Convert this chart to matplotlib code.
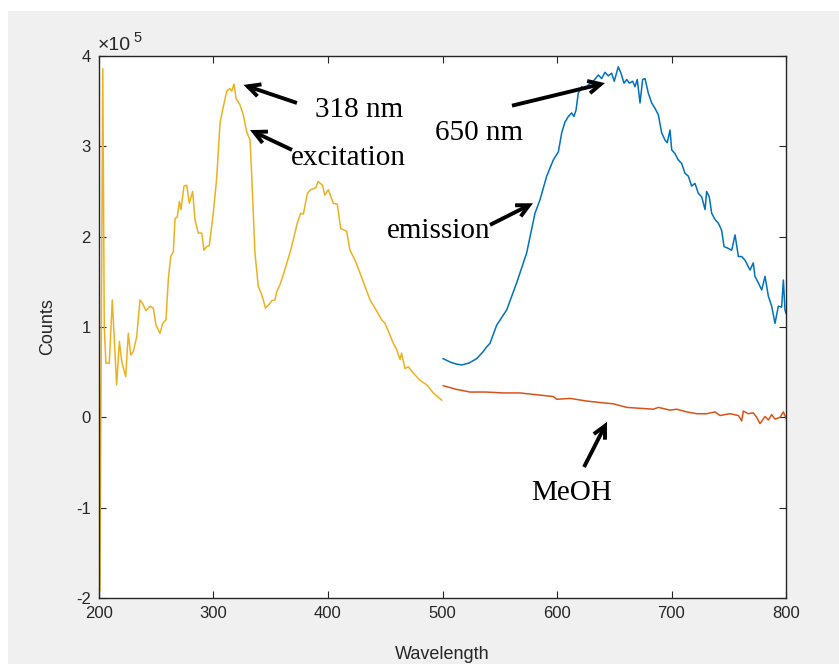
import matplotlib
matplotlib.use("Agg")
import matplotlib.pyplot as plt
from matplotlib.patches import Rectangle
from matplotlib import font_manager as fm
import numpy as np

# ---------------- data (counts in units of 1e5) ----------------
exc_wl = [200.0, 200.8, 203.3, 204.6, 206.0, 209.0, 211.6, 215.4, 217.8, 219.8,
          223.3, 225.6, 227.7, 230.0, 232.9, 235.8, 238.1, 241.0, 244.5, 247.4,
          249.8, 253.3, 255.6, 258.5, 260.5, 262.6, 264.9, 266.4, 268.4, 270.2,
          271.6, 274.2, 276.6, 278.9, 281.8, 283.8, 286.7, 289.7, 291.7, 294.1,
          296.3, 299.8, 302.8, 305.7, 308.6, 311.5, 314.4, 315.9, 317.9, 319.7,
          323.1, 326.0, 329.0, 331.9, 333.4, 336.2, 339.1, 342.1, 345.4, 347.9,
          350.8, 353.7, 355.2, 358.1, 361.5, 367.4, 373.2, 376.1, 378.5, 382.0,
          384.9, 389.3, 391.3, 395.2, 397.2, 400.3, 404.6, 408.1, 411.1, 416.3,
          419.2, 423.6, 427.9, 432.3, 436.7, 441.9, 446.9, 449.8, 453.5, 457.0,
          460.0, 462.9, 464.3, 467.2, 470.1, 474.5, 480.3, 486.2, 492.0, 499.3]
exc_val = [1.70, -1.92, 3.86, 1.00, 0.60, 0.60, 1.30, 0.36, 0.84, 0.62,
           0.45, 0.93, 0.69, 0.73, 0.89, 1.30, 1.26, 1.18, 1.23, 1.21,
           1.02, 0.93, 1.04, 1.08, 1.52, 1.78, 1.83, 2.20, 2.22, 2.39,
           2.30, 2.56, 2.57, 2.37, 2.50, 2.19, 2.04, 2.04, 1.85, 1.89,
           1.90, 2.26, 2.65, 3.26, 3.44, 3.61, 3.64, 3.61, 3.69, 3.53,
           3.46, 3.35, 3.16, 3.07, 2.67, 1.82, 1.45, 1.36, 1.21, 1.24,
           1.29, 1.30, 1.39, 1.47, 1.60, 1.85, 2.15, 2.26, 2.25, 2.48,
           2.52, 2.54, 2.61, 2.57, 2.46, 2.52, 2.37, 2.36, 2.09, 2.06,
           1.85, 1.74, 1.60, 1.45, 1.30, 1.19, 1.08, 1.04, 0.93, 0.82,
           0.75, 0.64, 0.71, 0.54, 0.56, 0.49, 0.41, 0.36, 0.27, 0.19]

em_wl = [500.5, 507.0, 512.0, 516.8, 523.0, 529.9, 535.0, 538.6, 541.5, 547.3,
         556.1, 564.8, 573.5, 580.8, 585.2, 591.0, 596.8, 601.2, 604.1, 607.0,
         609.9, 612.8, 614.8, 616.6, 618.6, 621.6, 624.5, 627.3, 631.7, 636.1,
         639.0, 641.9, 644.8, 647.7, 650.0, 653.5, 655.9, 658.5, 660.9, 663.1,
         666.1, 668.1, 670.1, 672.5, 674.8, 676.9, 679.7, 682.7, 685.6, 688.5,
         691.4, 694.3, 696.3, 698.7, 700.2, 703.0, 705.9, 708.9, 711.8, 714.7,
         717.6, 720.5, 723.4, 726.4, 729.3, 730.7, 733.0, 735.1, 738.0, 740.9,
         743.8, 745.9, 749.6, 752.6, 755.5, 758.4, 761.3, 764.2, 768.6, 771.4,
         772.9, 775.8, 778.8, 781.7, 784.6, 787.5, 790.4, 793.3, 796.2, 797.7,
         799.1, 800.0]
em_val = [0.65, 0.61, 0.59, 0.58, 0.60, 0.65, 0.72, 0.78, 0.82, 1.02,
          1.19, 1.49, 1.82, 2.26, 2.41, 2.67, 2.85, 2.94, 3.15, 3.27,
          3.33, 3.37, 3.33, 3.40, 3.59, 3.66, 3.63, 3.68, 3.72, 3.79,
          3.75, 3.82, 3.78, 3.81, 3.72, 3.88, 3.81, 3.70, 3.74, 3.70,
          3.72, 3.66, 3.74, 3.48, 3.74, 3.75, 3.59, 3.48, 3.42, 3.35,
          3.15, 3.07, 3.04, 3.18, 2.96, 2.92, 2.85, 2.81, 2.70, 2.67,
          2.56, 2.59, 2.48, 2.44, 2.30, 2.50, 2.44, 2.26, 2.19, 2.15,
          2.07, 1.89, 1.87, 1.85, 2.02, 1.78, 1.78, 1.74, 1.63, 1.71,
          1.56, 1.49, 1.41, 1.56, 1.34, 1.23, 1.04, 1.23, 1.22, 1.52,
          1.19, 1.15]

meoh_wl = [500.7, 512.0, 524.0, 538.0, 553.0, 567.6, 582.3, 596.8, 599.7, 611.4,
           626.0, 640.4, 649.2, 660.9, 672.5, 684.1, 688.5, 698.7, 704.5, 713.3,
           722.0, 730.7, 738.0, 742.4, 751.1, 758.4, 761.3, 762.7, 767.1, 771.4,
           774.4, 777.3, 781.7, 784.6, 787.5, 790.4, 794.8, 797.7, 800.0]
meoh_val = [0.35, 0.31, 0.28, 0.28, 0.27, 0.27, 0.25, 0.23, 0.20, 0.21,
            0.18, 0.16, 0.15, 0.11, 0.10, 0.09, 0.11, 0.08, 0.09, 0.06,
            0.04, 0.04, 0.06, 0.02, 0.04, 0.02, -0.04, 0.07, 0.04, 0.05,
            0.00, -0.07, 0.01, -0.03, 0.03, -0.02, 0.00, 0.06, -0.01]

x_ticks = [200, 300, 400, 500, 600, 700, 800]
y_ticks = [-2, -1, 0, 1, 2, 3, 4]
SCALE = 1e5

# ---------------- fonts ----------------
avail = {f.name for f in fm.fontManager.ttflist}
sans = "Liberation Sans Narrow" if "Liberation Sans Narrow" in avail else "Liberation Sans"
serif = "Liberation Serif"

W, H = 839, 664
fig = plt.figure(figsize=(W / 100, H / 100), dpi=100, facecolor="white")
fig.patches.append(Rectangle((8 / W, 0), 1 - 8 / W, 1 - 11 / H, transform=fig.transFigure,
                             facecolor="#f0f0f0", edgecolor="none", zorder=-10))

ax = fig.add_axes([99 / W, 1 - 598 / H, (786 - 99) / W, (598 - 56) / H])
ax.set_facecolor("white")

ax.plot(exc_wl, np.array(exc_val) * SCALE, color="#EDB120", lw=1.1)
ax.plot(em_wl, np.array(em_val) * SCALE, color="#0072BD", lw=1.1)
ax.plot(meoh_wl, np.array(meoh_val) * SCALE, color="#D95319", lw=1.1)

ax.set_xlim(200, 800)
ax.set_ylim(-2 * SCALE, 4 * SCALE)
ax.set_xticks(x_ticks)
ax.set_xticklabels([str(t) for t in x_ticks])
ax.set_yticks([t * SCALE for t in y_ticks])
ax.set_yticklabels([str(t) for t in y_ticks])

tc = "#262626"
for s in ax.spines.values():
    s.set_color(tc)
    s.set_linewidth(1.0)
ax.tick_params(direction="in", length=5, width=0.8, color=tc, labelcolor=tc,
               top=True, right=True, labelsize=12, pad=6)
for lab in ax.get_xticklabels() + ax.get_yticklabels():
    lab.set_fontfamily(sans)

ax.set_xlabel("Wavelength", fontsize=13, color=tc, fontfamily=sans, labelpad=18)
ax.set_ylabel("Counts", fontsize=13, color=tc, fontfamily=sans, labelpad=14)

fig.text(98 / W, 1 - 50 / H, "×10", fontsize=14, color=tc, fontfamily=sans,
         ha="left", va="baseline")
fig.text(133 / W, 1 - 42 / H, "5", fontsize=10.5, color=tc, fontfamily=sans,
         ha="left", va="baseline")

# ---------------- annotations ----------------
afs = 21
def arrow(tail, head):
    ax.annotate("", xy=(head[0], head[1] * SCALE), xytext=(tail[0], tail[1] * SCALE),
                arrowprops=dict(arrowstyle="->,head_length=0.9,head_width=0.45",
                                lw=2.8, color="black", shrinkA=0, shrinkB=0,
                                joinstyle="miter", capstyle="butt"))

arrow((372.9, 3.48), (326.2, 3.68))
arrow((368.6, 2.96), (331.9, 3.18))
arrow((560.7, 3.45), (641.9, 3.70))
arrow((541.5, 2.13), (579.0, 2.37))
arrow((623.6, -0.55), (643.7, -0.05))

ax.text(388.6, 3.40 * SCALE, "318 nm", fontsize=afs, fontfamily=serif, va="center", ha="left")
ax.text(367.2, 2.87 * SCALE, "excitation", fontsize=afs, fontfamily=serif, va="center", ha="left")
ax.text(493.4, 3.15 * SCALE, "650 nm", fontsize=afs, fontfamily=serif, va="center", ha="left")
ax.text(451.5, 2.06 * SCALE, "emission", fontsize=afs, fontfamily=serif, va="center", ha="left")
ax.text(577.3, -0.84 * SCALE, "MeOH", fontsize=afs, fontfamily=serif, va="center", ha="left")

fig.savefig("out.png", dpi=100, facecolor=fig.get_facecolor())
